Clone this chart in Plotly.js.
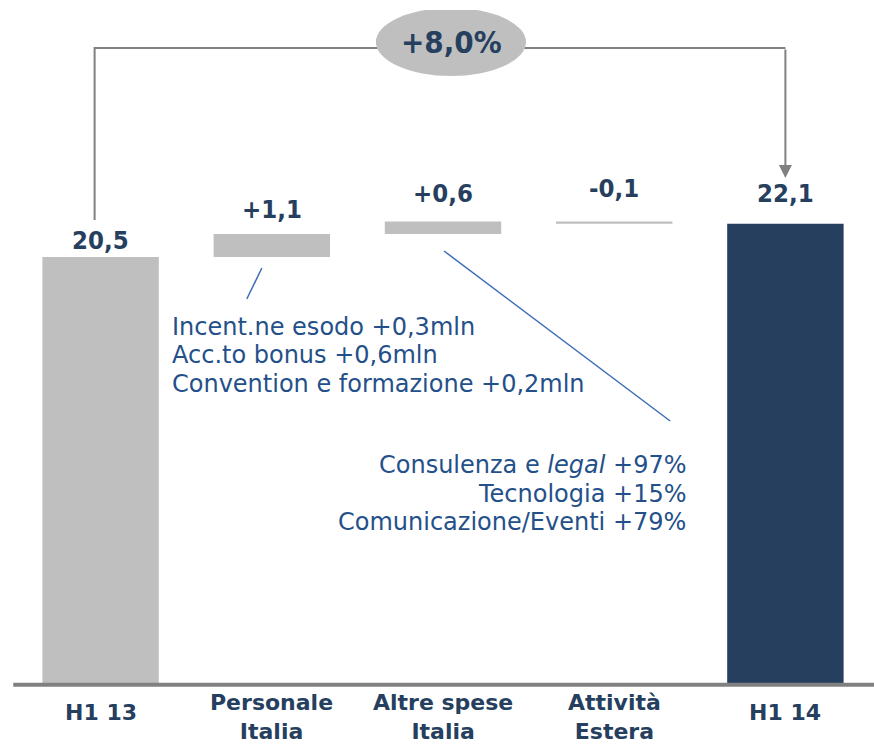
<!DOCTYPE html>
<html><head><meta charset="utf-8">
<script src="https://cdn.plot.ly/plotly-3.0.1.min.js"></script>
<style>body{margin:0;background:#fff}#c{width:874px;height:745px}</style>
</head><body><div id="c"></div>
<script>
const categories = ["H1 13", "Personale<br>Italia", "Altre spese<br>Italia", "Attività<br>Estera", "H1 14"];
const values = [20.5, 1.1, 0.6, -0.1, 22.1];
const measures = ["absolute", "relative", "relative", "relative", "total"];
const valueLabels = ["20,5", "+1,1", "+0,6", "-0,1", "22,1"];
const growthLabel = "+8,0%";
const noteLeft = ["Incent.ne esodo +0,3mln", "Acc.to bonus +0,6mln", "Convention e formazione +0,2mln"];
const noteRight = ["Consulenza e <i>legal</i> +97%", "Tecnologia +15%", "Comunicazione/Eventi +79%"];

const NAVY = "#263F5F", GREY = "#BFBFBF", LINE = "#808080", BLUE = "#3E6DB5", TXT = "#24508A";
const BOLD = "DejaVu Sans Condensed, DejaVu Sans";

// plot geometry (pixels)
const H = 745, T = 10, B = 61, YMAX = 32.36;
const plotH = H - T - B;
const pxPerUnit = plotH / YMAX;
const yFromPx = py => (H - B - py) / pxPerUnit;
const paperFromPx = py => (H - B - py) / plotH;

// compute bases & heights
let bases = [], heights = [], tops = [], running = 0;
values.forEach((v, i) => {
  if (measures[i] === "absolute") { running = v; bases.push(0); heights.push(v); }
  else if (measures[i] === "total") { bases.push(0); heights.push(running); }
  else { const b = v >= 0 ? running : running + v; bases.push(b); heights.push(Math.abs(v)); running += v; }
  tops.push(bases[i] + heights[i]);
});
const xs = categories.map((c, i) => i);
const colors = measures.map(m => m === "total" ? NAVY : GREY);

const trace = {type: "bar", x: xs, y: heights, base: bases, width: 0.68,
  marker: {color: colors, line: {width: 0}}, hoverinfo: "skip"};

const ann = [];
// value labels (pixel offset above bar top)
const labelShift = [17, 25, 28.6, 33.6, 30.7];
valueLabels.forEach((t, i) => ann.push({x: i, y: tops[i], xref: "x", yref: "y", text: "<b>" + t + "</b>",
  showarrow: false, yanchor: "middle", yshift: labelShift[i],
  font: {family: BOLD, size: 25.5, color: NAVY}}));
// category labels
categories.forEach((t, i) => {
  const two = t.indexOf("<br>") >= 0;
  ann.push({x: i, y: two ? paperFromPx(745) : paperFromPx(712), xref: "x", yref: "paper", text: "<b>" + t + "</b>",
    showarrow: false, yanchor: two ? "bottom" : "middle", borderpad: 0, align: "center",
    font: {family: "DejaVu Sans", size: 22, color: NAVY}});
});
// growth ellipse label
ann.push({x: 2.05, xref: "x", y: yFromPx(42), yref: "y", text: "<b>" + growthLabel + "</b>",
  showarrow: false, yanchor: "middle", font: {family: BOLD, size: 31, color: NAVY}});
// arrow down to final bar
ann.push({x: 4, y: yFromPx(178), xref: "x", yref: "y", ax: 4, ay: yFromPx(48), axref: "x", ayref: "y", text: "",
  showarrow: true, arrowhead: 2, arrowsize: 1.3, arrowwidth: 2, arrowcolor: LINE});
// notes
const leftY = [327, 355, 384], rightY = [465, 494, 522];
noteLeft.forEach((t, i) => ann.push({x: 0.405, y: yFromPx(leftY[i]), xref: "x", yref: "y", xanchor: "left", yanchor: "middle",
  text: t, showarrow: false, font: {family: "DejaVu Sans", size: 24, color: TXT}}));
noteRight.forEach((t, i) => ann.push({x: 3.432, y: yFromPx(rightY[i]), xref: "x", yref: "y", xanchor: "right", yanchor: "middle",
  text: t, showarrow: false, font: {family: "DejaVu Sans", size: 24, color: TXT}}));

const shapes = [
  // baseline
  {type: "line", xref: "paper", yref: "paper", x0: -0.002, x1: 1.01, y0: -0.8 / plotH, y1: -0.8 / plotH, line: {color: LINE, width: 4}},
  // connector left vertical + horizontal
  {type: "path", xref: "x", yref: "y", path: `M -0.035 ${yFromPx(220)} L -0.035 ${yFromPx(48)} L 4 ${yFromPx(48)}`,
    line: {color: LINE, width: 2}},
  // ellipse
  {type: "circle", xref: "x", yref: "y", x0: 1.608, x1: 2.485, y0: yFromPx(76), y1: yFromPx(8),
    fillcolor: GREY, line: {width: 0}},
  // pointer lines
  {type: "line", xref: "x", yref: "y", x0: 0.942, y0: yFromPx(268), x1: 0.854, y1: yFromPx(299), line: {color: BLUE, width: 1.5}},
  {type: "line", xref: "x", yref: "y", x0: 2.006, y0: yFromPx(251), x1: 3.327, y1: yFromPx(421), line: {color: BLUE, width: 1.5}}
];

const layout = {width: 874, height: H, margin: {l: 15, r: 3, t: T, b: B},
  paper_bgcolor: "#fff", plot_bgcolor: "#fff", showlegend: false,
  xaxis: {range: [-0.5, 4.5], showticklabels: false, showgrid: false, zeroline: false, showline: false, fixedrange: true},
  yaxis: {range: [0, YMAX], showticklabels: false, showgrid: false, zeroline: false, showline: false},
  annotations: ann, shapes: shapes};

Plotly.newPlot("c", [trace], layout, {displayModeBar: false, staticPlot: true});
</script></body></html>
